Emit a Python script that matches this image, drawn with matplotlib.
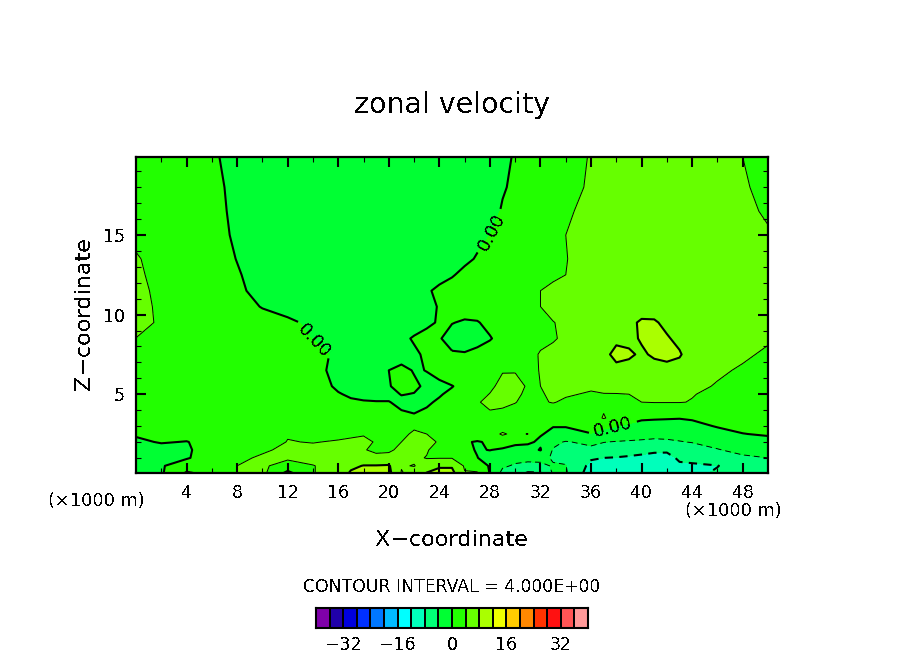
import numpy as np
import matplotlib
matplotlib.use("Agg")
from matplotlib import pyplot as plt
from matplotlib.colors import ListedColormap, BoundaryNorm

plt.rcParams['font.family'] = 'DejaVu Sans'
plt.rcParams['text.antialiased'] = False

# grid (km)
x_km = [0, 2, 4, 6, 8, 10, 12, 14, 16,
        17, 18, 19, 20, 21, 22, 23, 24, 25, 26, 27, 28, 29, 30, 31, 32, 33,
        34, 36, 37, 38, 39, 40, 41, 42, 43, 44, 46, 48, 50]
z_km = [19.9, 18, 16.5, 15, 13.5, 12.5, 11.5, 10.5, 9.5, 8.5, 7.5, 6.5, 5.5, 5, 4.5,
        3.5, 3, 2.5, 2, 1.5, 1, 0.5, 0.05]

# zonal velocity, one row per z_km, top of the plot first
u_rows = [
    [2.2, 2.2, 2.0, 0.6, -1.4, -2, -2, -2, -2,
     -2, -2, -2, -2, -2, -2, -2, -2, -2, -2, -1.8, -1.0, -0.5, 0.2, 1, 1.5, 2,
     2.8, 4.2, 4.8, 5, 5, 5.2, 5.2, 5.2, 5.2, 5, 4.8, 4, 2.8],
    [2.2, 2.2, 2, 0.8, -0.8, -2, -2, -2, -2,
     -2, -2, -2, -2, -2, -2, -2, -2, -2, -2, -1.8, -1.2, -0.2, 0.4, 1, 1.6, 2.2,
     3, 4.4, 4.8, 5, 5, 5.2, 5.2, 5.2, 5.2, 5, 4.8, 4.4, 3],
    [2.2, 2.2, 2.2, 1, -0.7, -2, -2, -2, -2,
     -2, -2, -2, -2, -2, -2, -2, -2, -2, -1.8, -1.4, -0.8, 0.2, 1, 1.6, 2.2, 2.8,
     3.6, 4.8, 5, 5, 5.2, 5.2, 5.2, 5.2, 5.2, 5, 5, 4.7, 3.6],
    [3.0, 2.4, 2.2, 1.2, -0.5, -2, -2, -2, -2,
     -2, -2, -2, -2, -2, -2, -2, -2, -1.8, -1.2, -0.6, 0, 0.6, 1.2, 1.8, 2.4, 3.2,
     4, 5, 5.2, 5.2, 5.2, 5.2, 5.2, 5.2, 5.2, 5.2, 5.2, 5, 4.3],
    [4.4, 2.4, 2.2, 1.6, -0.1, -1.8, -2, -2, -2,
     -2, -2, -2, -2, -2, -2, -1.8, -1.4, -1, -0.5, 0.2, 1, 1.6, 2, 2.4, 2.8, 3.2,
     3.9, 5.2, 5.4, 5.4, 5.4, 5.4, 5.4, 5.4, 5.4, 5.4, 5.4, 5.4, 4.8],
    [4.9, 2.4, 2.2, 2, 0.3, -1.4, -2, -2, -2,
     -2, -2, -2, -2, -2, -1.8, -1.4, -0.8, -0.2, 0.6, 1.2, 1.6, 1.8, 2, 2.4, 2.8, 3.2,
     4, 5.2, 5.4, 5.4, 5.4, 5.6, 5.6, 5.6, 5.6, 5.6, 5.6, 5.4, 5],
    [5.6, 2.6, 2.4, 2.2, 0.7, -1.2, -2, -2, -2,
     -2, -2, -2, -2, -1.8, -1, -0.3, 0.5, 1, 1.4, 1.8, 2, 2.2, 2.6, 3.2, 4, 5,
     5.2, 5.4, 5.4, 5.4, 5.4, 5.6, 5.6, 5.6, 5.6, 5.6, 5.6, 5.4, 5.2],
    [6.2, 2.8, 2.4, 2.4, 1.6, -0.2, -1.8, -2, -2,
     -2, -2, -2, -2, -1.8, -1.4, -0.4, 0.1, 1, 1.2, 1.6, 2, 2.2, 2.6, 3.2, 4, 5,
     5.2, 5.4, 5.4, 5.6, 5.8, 6, 6, 6, 5.8, 5.6, 5.6, 5.4, 5.2],
    [6.4, 3, 2.6, 2.4, 2, 1.6, 0.9, -1, -2,
     -2, -2, -2, -2, -1.8, -1.4, -0.6, 0.3, 0.1, -0.3, -0.2, 0.8, 1.4, 2, 2.8, 3.4, 3.9,
     4.6, 5.4, 5.6, 5.8, 7, 8.6, 8.5, 7, 6.4, 6, 5.6, 5.4, 5.2],
    [3.9, 3, 2.6, 2.4, 2.4, 2, 1.2, -0.1, -1.4,
     -2, -2, -2, -1.8, -0.7, 0.3, 1, 0.2, -1, -1.2, -1, -0.2, 1, 2, 2.8, 3.4, 3.8,
     4.4, 5.4, 5.8, 7.4, 7, 8.4, 9.6, 8.4, 7, 6.2, 5.6, 5, 4.3],
    [2.8, 2.6, 2.4, 2.4, 2.4, 2.2, 1.8, 0.9, -0.5,
     -1.2, -1.6, -1.8, -1.8, -1.4, -0.5, 0.5, 1.2, 0.3, 0.2, 0.8, 1.4, 1.8, 2.4, 3.2, 4.2, 4.6,
     4.8, 5.6, 7.2, 8.8, 8.6, 7.4, 8.6, 9.2, 8.4, 6, 5.2, 4.4, 3.6],
    [2.6, 2.4, 2.4, 2.4, 2.4, 2.2, 2, 1, -0.9,
     -1.4, -1.6, -1.4, 0, 0.8, -0.2, 0.05, 1.2, 1.8, 2, 2.4, 3, 3.8, 3.8, 3.4, 4.1, 4.4,
     4.6, 5.4, 7.6, 7.2, 6.6, 6.2, 6.4, 6.6, 6.4, 5.4, 4.4, 3.7, 3.2],
    [2.6, 2.4, 2.4, 2.4, 2.4, 2.4, 2.2, 1.5, -0.5,
     -1, -1.2, -0.8, -0.2, 1, 0.5, -0.5, -0.8, -0.1, 0.8, 2.2, 3.4, 4.9, 5, 3.7, 4, 4.4,
     4.6, 4.3, 4.8, 5, 5.2, 5.4, 5.4, 5.4, 5, 4.6, 3.8, 3.2, 2.8],
    [2.6, 2.4, 2.4, 2.4, 2.4, 2.4, 2.3, 1.8, 0.2,
     -0.4, -0.7, -0.7, -0.7, 0.1, -0.1, -1, -0.2, 0.5, 1.2, 3, 4.1, 4.8, 4.6, 3.4, 3.9, 4.2,
     4.2, 3.8, 3.9, 3.9, 4, 4.5, 4.6, 4.6, 4.4, 4.1, 3.5, 3, 2.6],
    [2.6, 2.4, 2.4, 2.4, 2.4, 2.4, 2.4, 2, 1,
     0.4, 0.2, 0.1, 0.1, -0.6, -1, -0.3, 0.3, 1, 1.8, 3.8, 4.6, 4.6, 4.1, 3.2, 3.8, 4.1,
     3.7, 3.5, 3.5, 3.6, 3.8, 4, 4.1, 4.1, 4.1, 3.9, 3.2, 2.8, 2.4],
    [2, 2.2, 2.2, 2.2, 2.2, 2.2, 2.2, 2.2, 2,
     1.8, 1.6, 1.4, 1.2, 0.6, 0.4, 0.6, 1, 1.6, 2.4, 3.7, 3.4, 3, 2.6, 2.4, 2.2, 2.4,
     2.4, 2.8, 4.2, 3, 1, 0.4, 0.3, 0.2, 0.1, 0.3, 0.6, 1, 1.2],
    [1, 1.6, 1.8, 2, 2.2, 2.4, 2.8, 2.6, 2.4,
     2.4, 2.2, 2.4, 2.6, 3, 3.6, 3, 2.6, 2.4, 2, 2, 2.2, 2.8, 2.6, 1.6, 0.6, 0.1,
     0.1, 1, 0.6, 0.1, -0.4, -1, -1.2, -1.2, -1.1, -0.8, 0.2, 0.5, 0.8],
    [0.3, 0.8, 1, 1.6, 2, 2.6, 3.8, 3.6, 3.4,
     3.6, 3.8, 3.2, 3, 3.4, 4.4, 4, 3, 2.6, 2.2, 2.4, 3, 4.3, 3.4, 4.1, 0.2, -0.6,
     -0.6, -0.1, -1, -1.6, -2, -2.4, -2.8, -2.8, -2.6, -2.2, -1, -0.05, 0.2],
    [-0.5, 0.2, -0.1, 1, 2, 2.6, 4.1, 3.9, 4.2,
     4.4, 4.6, 3.8, 3.2, 4, 5, 4.6, 3.8, 2.6, 0.4, -0.3, 0.5, 2.4, 0.8, 0.5, -0.5, -3,
     -4.3, -3, -3.9, -4.2, -4.4, -4.6, -4.8, -4.6, -4.2, -3.8, -2.8, -1.4, -0.6],
    [-1.5, -1, -0.4, 1.4, 2.4, 3.6, 4.6, 4.6, 4.6,
     4.6, 4.2, 3.4, 3.6, 4.6, 5, 4.2, 3, 2, 1, -0.3, 0.1, -0.6, -1.2, -1.2, 0.2, -4.3,
     -4.4, -5, -5.4, -5.6, -6, -6.6, -7.2, -7.6, -6.6, -6, -4.2, -3, -2],
    [-2.5, -1.6, -0.4, 2.2, 3.4, 4.4, 4.6, 4.8, 4.6,
     4.1, 4.6, 4.8, 4.8, 4.8, 4.4, 3.9, 3.8, 3.8, 2, 0.1, -1.6, -2.5, -3, -3, -3, -4.4,
     -4.5, -7.6, -8, -8.2, -8.6, -9, -9.4, -8.8, -7.6, -7.2, -6, -4.6, -4],
    [-3, -0.4, 2.4, 3.2, 4, 4.6, 2.4, 3.9, 5,
     7, 8.2, 8.2, 8.4, 4.2, 3.9, 5, 7.6, 7.6, 3.6, 3, -0.5, -3.5, -4.4, -5, -4.8, -3.7,
     -3.9, -9, -9.4, -9.6, -9.8, -10, -10, -9.6, -8.4, -8.4, -8.1, -6.4, -5],
    [-3.5, -0.5, 4.6, 3, 4, 5, -1, 3.9, 5,
     8.6, 9, 9.2, 9, 3.8, 5, 8.2, 9, 9, 4.2, 4.2, -0.2, -5, -6, -8.4, -8.2, -3.6,
     -3.6, -10, -10.4, -10.6, -10.8, -11, -11, -10.6, -9.6, -8.8, -7.6, -6, -5.5],
]

# one colour per 4 m/s box of the colour bar
box_colors = ['#7f00aa', '#2000aa', '#0000dd', '#0030ff', '#0077ff',
              '#00bbff', '#00ffff', '#00ffbb', '#00ff77', '#00ff33',
              '#22ff00', '#66ff00', '#aaff00', '#eeff00', '#ffcc00',
              '#ff8800', '#ff3300', '#ff1111', '#ff5555', '#ff9999']
box_edges = np.arange(-40, 41, 4)
bar_ticks = [-32, -16, 0, 16, 32]

W, H = 904, 654


def px_text(px, py, s, **kw):
    plt.figtext(px / W, 1 - py / H, s, ha=kw.pop('ha', 'center'), va='center', **kw)


fig = plt.figure(figsize=(W / 100, H / 100), dpi=100)
ax = fig.add_axes([136 / W, 1 - 473 / H, (768 - 136) / W, (473 - 157) / H])

xx = np.array(x_km)
zz = np.array(z_km)[::-1]
u = np.array(u_rows)[::-1]

cmap = ListedColormap(box_colors)
norm = BoundaryNorm(box_edges, cmap.N)
ax.contourf(xx, zz, u, levels=box_edges, cmap=cmap, norm=norm, antialiased=False)

# 0 and +-8 drawn heavy, +-4 thin, negative dashed
ax.contour(xx, zz, u, levels=[4], colors='k', linewidths=0.7)
ax.contour(xx, zz, u, levels=[8], colors='k', linewidths=1.5)
ax.contour(xx, zz, u, levels=[-4], colors='k', linewidths=0.7, linestyles=[(0, (6, 4))])
ax.contour(xx, zz, u, levels=[-8], colors='k', linewidths=1.5, linestyles=[(0, (4, 3))])
cs0 = ax.contour(xx, zz, u, levels=[0], colors='k', linewidths=1.5)
ax.clabel(cs0, fmt='%.2f', fontsize=13, inline=True,
          manual=[(14.1, 8.4), (37.7, 3.0), (27.8, 15.3)])

ax.set_xlim(0, 50)
ax.set_ylim(0.05, 19.9)
ax.set_xticks(np.arange(4, 49, 4))
ax.set_xticks(np.arange(2, 50, 4), minor=True)
ax.set_yticks([5, 10, 15])
ax.set_yticks([t for t in range(1, 20) if t % 5], minor=True)
ax.tick_params(which='major', direction='in', length=7, width=1.5, top=True, right=True,
               labelsize=12.5, pad=8)
ax.tick_params(which='minor', direction='in', length=3.5, width=0.8, top=True, right=True)
for s in ax.spines.values():
    s.set_linewidth(1.6)

px_text(452, 105, 'zonal velocity', fontsize=20.5)
px_text(452, 540, 'X\u2212coordinate', fontsize=16)
px_text(84, 314, 'Z\u2212coordinate', fontsize=16, rotation=90)
px_text(96, 501, '(\u00d71000 m)', fontsize=12.8)
px_text(733, 511, '(\u00d71000 m)', fontsize=12.8)
px_text(452, 587, 'CONTOUR INTERVAL = 4.000E+00', fontsize=12.4)

# colour bar
cax = fig.add_axes([316 / W, 1 - 628 / H, (588 - 316) / W, 20 / H])
cax.pcolormesh(box_edges, [0, 1], [box_edges[:-1] + 2], cmap=cmap, norm=norm,
               edgecolors='k', linewidth=1.1)
cax.set_yticks([])
cax.set_xticks(bar_ticks)
cax.set_xticklabels([str(t).replace('-', '\u2212') for t in bar_ticks])
cax.tick_params(length=0, labelsize=12.5, pad=6)
for s in cax.spines.values():
    s.set_linewidth(1.5)

plt.savefig('out.png', dpi=100)
